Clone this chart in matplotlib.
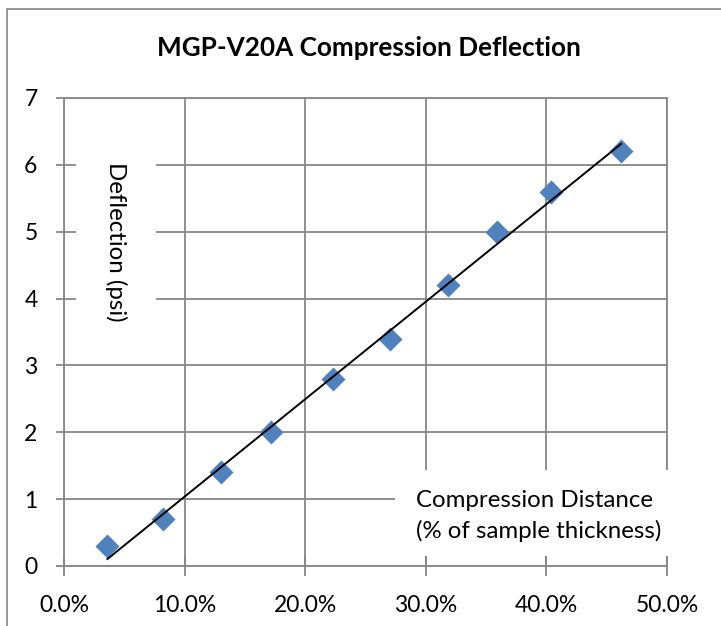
import matplotlib.pyplot as plt
from matplotlib.patches import Rectangle
from matplotlib.ticker import PercentFormatter
import numpy as np

# data
compression = [3.6, 8.2, 13.0, 17.2, 22.3, 27.0, 31.8, 35.9, 40.4, 46.2]   # % of sample thickness
deflection = [0.3, 0.7, 1.4, 2.0, 2.8, 3.4, 4.2, 5.0, 5.6, 6.2]            # psi
x_ticks = [0, 10, 20, 30, 40, 50]
y_ticks = [0, 1, 2, 3, 4, 5, 6, 7]

plt.rcParams['font.family'] = ['Lato', 'DejaVu Sans']
grid_col = '#878787'

fig = plt.figure(figsize=(7.21, 6.26), dpi=100)
ax = fig.add_axes([64/721, 1-566/626, 603/721, 468/626])

# outer chart border (runs off the right / bottom edge like the reference crop)
fig.patches.append(Rectangle((7/721, -0.1), 1.1, 1-9/626+0.1, transform=fig.transFigure,
                             fill=False, edgecolor='#8c8c8c', lw=1.3))

ax.scatter(compression, deflection, marker='D', s=150, color='#4f81bd', zorder=3, linewidths=0)

# linear trendline
slope, icpt = np.polyfit(compression, deflection, 1)
xs = np.array([min(compression), max(compression)])
ax.plot(xs, slope*xs + icpt, color='black', lw=1.4, zorder=4)

ax.set_xlim(0, 50)
ax.set_ylim(0, 7)
ax.set_xticks(x_ticks)
ax.set_yticks(y_ticks)
ax.xaxis.set_major_formatter(PercentFormatter(decimals=1))
ax.set_axisbelow(True)
ax.grid(True, color=grid_col, lw=1.3)
for s in ax.spines.values():
    s.set_color(grid_col)
    s.set_linewidth(1.3)
ax.spines['right'].set_zorder(0.6)
ax.spines['top'].set_zorder(0.6)
ax.tick_params(axis='x', direction='inout', length=14, width=1.3, color=grid_col,
               labelsize=16.5, pad=14, labelcolor='black')
ax.tick_params(axis='y', direction='out', length=6, width=1.3, color=grid_col,
               labelsize=16.5, pad=13, labelcolor='black')

# white label boxes covering the grid, as in the Excel chart
ax.add_patch(Rectangle((0.020, 0.48), 0.133, 0.41, transform=ax.transAxes,
                       facecolor='white', edgecolor='none', zorder=1))
ax.add_patch(Rectangle((0.549, 0.021), 0.49, 0.184, transform=ax.transAxes,
                       facecolor='white', edgecolor='none', zorder=1, clip_on=False))

ax.text(0.086, 0.692, 'Deflection (psi)', transform=ax.transAxes, rotation=270,
        ha='center', va='center', fontsize=17.3, zorder=5)
ax.text(0.584, 0.107, 'Compression Distance\n(% of sample thickness)', transform=ax.transAxes,
        ha='left', va='center', fontsize=17.3, linespacing=1.45, zorder=5)

fig.text(369/721, 1-48/626, 'MGP-V20A Compression Deflection', ha='center', va='center',
         fontsize=18.8, fontweight='bold')

fig.savefig('out.png', dpi=100)
